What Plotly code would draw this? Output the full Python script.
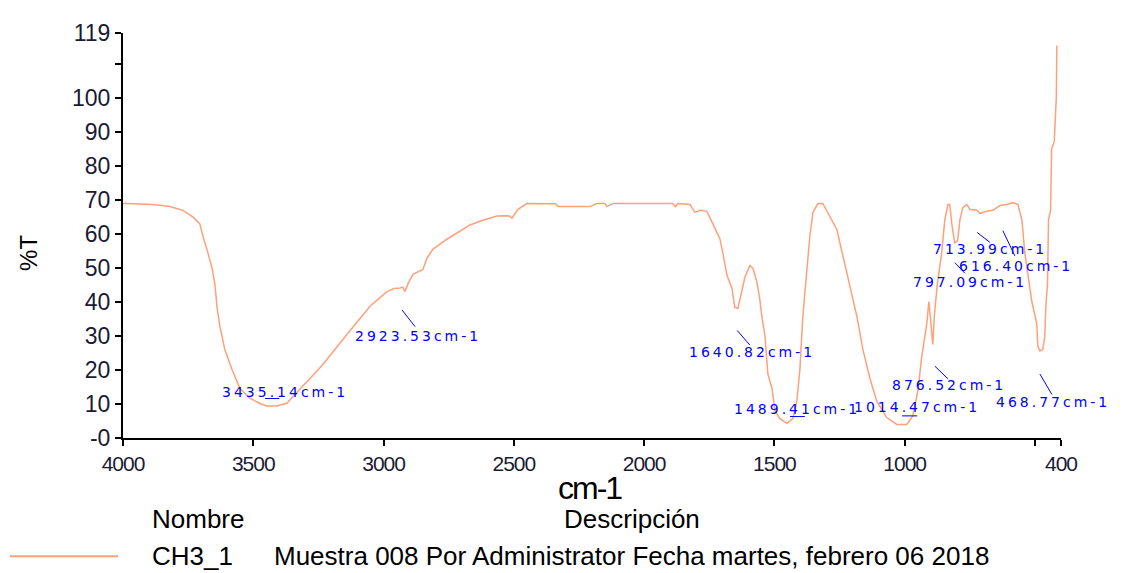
import plotly.graph_objects as go

# IR spectrum CH3_1
wavenumber = [
    4000, 3985, 3885, 3820, 3770, 3731, 3705, 3693, 3674, 3658, 3647, 3639, 3628,
    3609, 3582, 3551, 3513, 3470, 3447, 3409, 3371, 3348, 3294, 3233, 3167, 3117,
    3052, 2987, 2960, 2937, 2926, 2918, 2905, 2887, 2849, 2833, 2810, 2757, 2718,
    2668, 2619, 2565, 2520, 2507, 2484, 2450, 2340, 2330, 2208, 2181, 2150, 2143,
    2120, 1890, 1880, 1870, 1824, 1805, 1786, 1759, 1736, 1709, 1698, 1682, 1663,
    1652, 1640, 1625, 1613, 1594, 1582, 1567, 1556, 1548, 1536, 1525, 1509, 1498,
    1479, 1452, 1429, 1414, 1402, 1391, 1375, 1364, 1352, 1333, 1314, 1295, 1260,
    1237, 1210, 1183, 1160, 1133, 1107, 1069, 1030, 992, 969, 949, 934, 915, 907,
    900, 892, 886, 875, 858, 846, 834, 827, 819, 808, 797, 788, 777, 761, 750, 723,
    711, 685, 661, 635, 608, 585, 565, 550, 539, 512, 493, 489, 481, 470, 462, 458,
    452, 448, 440, 436, 426, 418, 416,
]
transmittance = [
    68.9, 68.9, 68.6, 68.0, 66.9, 64.9, 62.9, 59.2, 54.4, 49.8, 45.0, 38.4, 32.7,
    25.9, 20.2, 14.5, 11.7, 10.0, 9.4, 9.4, 10.2, 12.2, 16.5, 21.6, 27.9, 32.7,
    38.7, 43.0, 43.9, 44.1, 44.3, 43.0, 45.5, 48.1, 49.5, 52.9, 55.5, 58.4, 60.3,
    62.6, 64.0, 65.2, 65.3, 64.6, 67.2, 68.9, 68.8, 68.0, 68.0, 68.9, 68.9, 68.0,
    68.9, 68.9, 68.0, 68.9, 68.6, 66.3, 66.9, 66.6, 62.9, 58.5, 54.4, 47.8, 44.1,
    38.4, 38.1, 43.0, 47.3, 50.7, 49.8, 45.8, 40.7, 35.6, 29.9, 18.8, 14.5, 8.0,
    5.7, 4.3, 5.7, 10.8, 20.2, 35.6, 49.8, 59.2, 66.3, 68.9, 68.9, 66.3, 61.2,
    53.5, 45.0, 35.6, 25.9, 17.4, 10.8, 6.0, 4.0, 4.0, 6.5, 14.0, 24.2, 33.6, 40.1,
    35.0, 27.5, 36.0, 45.0, 54.4, 64.0, 68.6, 68.6, 62.9, 57.2, 58.0, 64.0, 67.7,
    68.6, 67.2, 66.9, 66.0, 66.6, 66.9, 68.3, 68.6, 69.2, 68.6, 64.0, 54.4, 40.1,
    33.6, 27.0, 25.6, 26.0, 30.0, 39.0, 45.0, 64.0, 67.0, 85.0, 87.0, 100.0, 115.3,
]

# peak labels: text, text centre (cm-1, %T), leader line start/end (cm-1, %T)
peak_labels = ["3435.14cm-1", "2923.53cm-1", "1640.82cm-1", "1489.41cm-1",
               "1014.47cm-1", "876.52cm-1", "468.77cm-1", "713.99cm-1",
               "616.40cm-1", "797.09cm-1"]
label_x = [3378, 2868, 1586, 1413, 953, 830, 431, 673, 573, 749]
label_y = [13.4, 29.9, 25.3, 8.5, 9.1, 15.7, 10.5, 55.5, 50.4, 45.8]
lead_x0 = [3455, 2929, 1643, 1440, 1010, 884, 481, 722, 623, 807]
lead_y0 = [11.6, 37.6, 31.6, 6.3, 6.5, 21.1, 18.8, 60.4, 60.9, 51.5]
lead_x1 = [3400, 2879, 1594, 1383, 952, 834, 435, 673, 577, 769]
lead_y1 = [11.6, 32.7, 27.3, 6.3, 6.5, 17.4, 12.8, 57.5, 53.5, 48.4]

x_ticks = [4000, 3500, 3000, 2500, 2000, 1500, 1000, 500, 400]
x_ticktext = ["4000", "3500", "3000", "2500", "2000", "1500", "1000", "", "400"]
y_ticks = [0, 10, 20, 30, 40, 50, 60, 70, 80, 90, 100, 110, 119]
y_ticktext = ["-0", "10", "20", "30", "40", "50", "60", "70", "80", "90", "100", "", "119"]

LINE = "#FFA07A"
SANS = "Liberation Sans, Arial"


def squeeze(s, px):
    # letter spacing to mimic the condensed face of the original
    return '<span style="letter-spacing:%dpx">%s</span>' % (px, s)


fig = go.Figure()
fig.add_trace(go.Scatter(x=wavenumber, y=transmittance, mode="lines",
                         line=dict(color=LINE, width=1.5), showlegend=False))

for x0, y0, x1, y1 in zip(lead_x0, lead_y0, lead_x1, lead_y1):
    fig.add_shape(type="line", xref="x", yref="y", x0=x0, y0=y0, x1=x1, y1=y1,
                  line=dict(color="#0000FF", width=1))

for txt, lx, ly in zip(peak_labels, label_x, label_y):
    fig.add_annotation(x=lx, y=ly, xref="x", yref="y", showarrow=False,
                       xanchor="center", yanchor="middle",
                       text=squeeze(txt, 3),
                       font=dict(family="DejaVu Sans", size=14, color="#0000FF"))

# axis titles
fig.add_annotation(x=0.4979, y=-0.123, xref="paper", yref="paper", showarrow=False,
                   xanchor="center", yanchor="middle",
                   text=squeeze("cm-1", -2), font=dict(family=SANS, size=32, color="black"))
fig.add_annotation(x=-0.1002, y=0.457, xref="paper", yref="paper", showarrow=False,
                   xanchor="center", yanchor="middle",
                   text="%T", textangle=-90, font=dict(family=SANS, size=24, color="black"))

# legend table below the plot
legend_font = dict(family=SANS, size=26, color="black")
legend_rows = [("Nombre", 0.0288, -0.201), ("Descripción", 0.468, -0.201),
               ("CH3_1", 0.0288, -0.2919),
               ("Muestra 008 Por Administrator Fecha martes, febrero 06 2018", 0.1588, -0.2919)]
for txt, px, py in legend_rows:
    fig.add_annotation(x=px, y=py, xref="paper", yref="paper", showarrow=False,
                       xanchor="left", yanchor="middle", text=txt,
                       font=legend_font)
fig.add_shape(type="line", xref="paper", yref="paper", x0=-0.1205, x1=-0.0053,
              y0=-0.2919, y1=-0.2919, line=dict(color=LINE, width=2))

# page body adds 8px around the figure
fig.update_layout(
    width=1114, height=565,
    margin=dict(l=115, r=61, t=12, b=135),
    plot_bgcolor="white", paper_bgcolor="white",
    showlegend=False,
)
fig.update_xaxes(range=[4000, 400], tickmode="array", tickvals=x_ticks,
                 ticktext=[squeeze(t, -1) for t in x_ticktext],
                 ticks="outside", ticklen=6, tickwidth=2, tickcolor="black",
                 showline=True, linecolor="black", linewidth=2,
                 showgrid=False, zeroline=False, ticklabeloverflow="allow",
                 tickfont=dict(family=SANS, size=21, color="#1a1a33"))
fig.update_yaxes(range=[0, 119], tickmode="array", tickvals=y_ticks, ticktext=y_ticktext,
                 ticks="outside", ticklen=6, tickwidth=2, tickcolor="black",
                 showline=True, linecolor="black", linewidth=2,
                 showgrid=False, zeroline=False, ticklabeloverflow="allow",
                 tickfont=dict(family=SANS, size=23, color="#1a1a33"))

fig.write_html("out.html")
